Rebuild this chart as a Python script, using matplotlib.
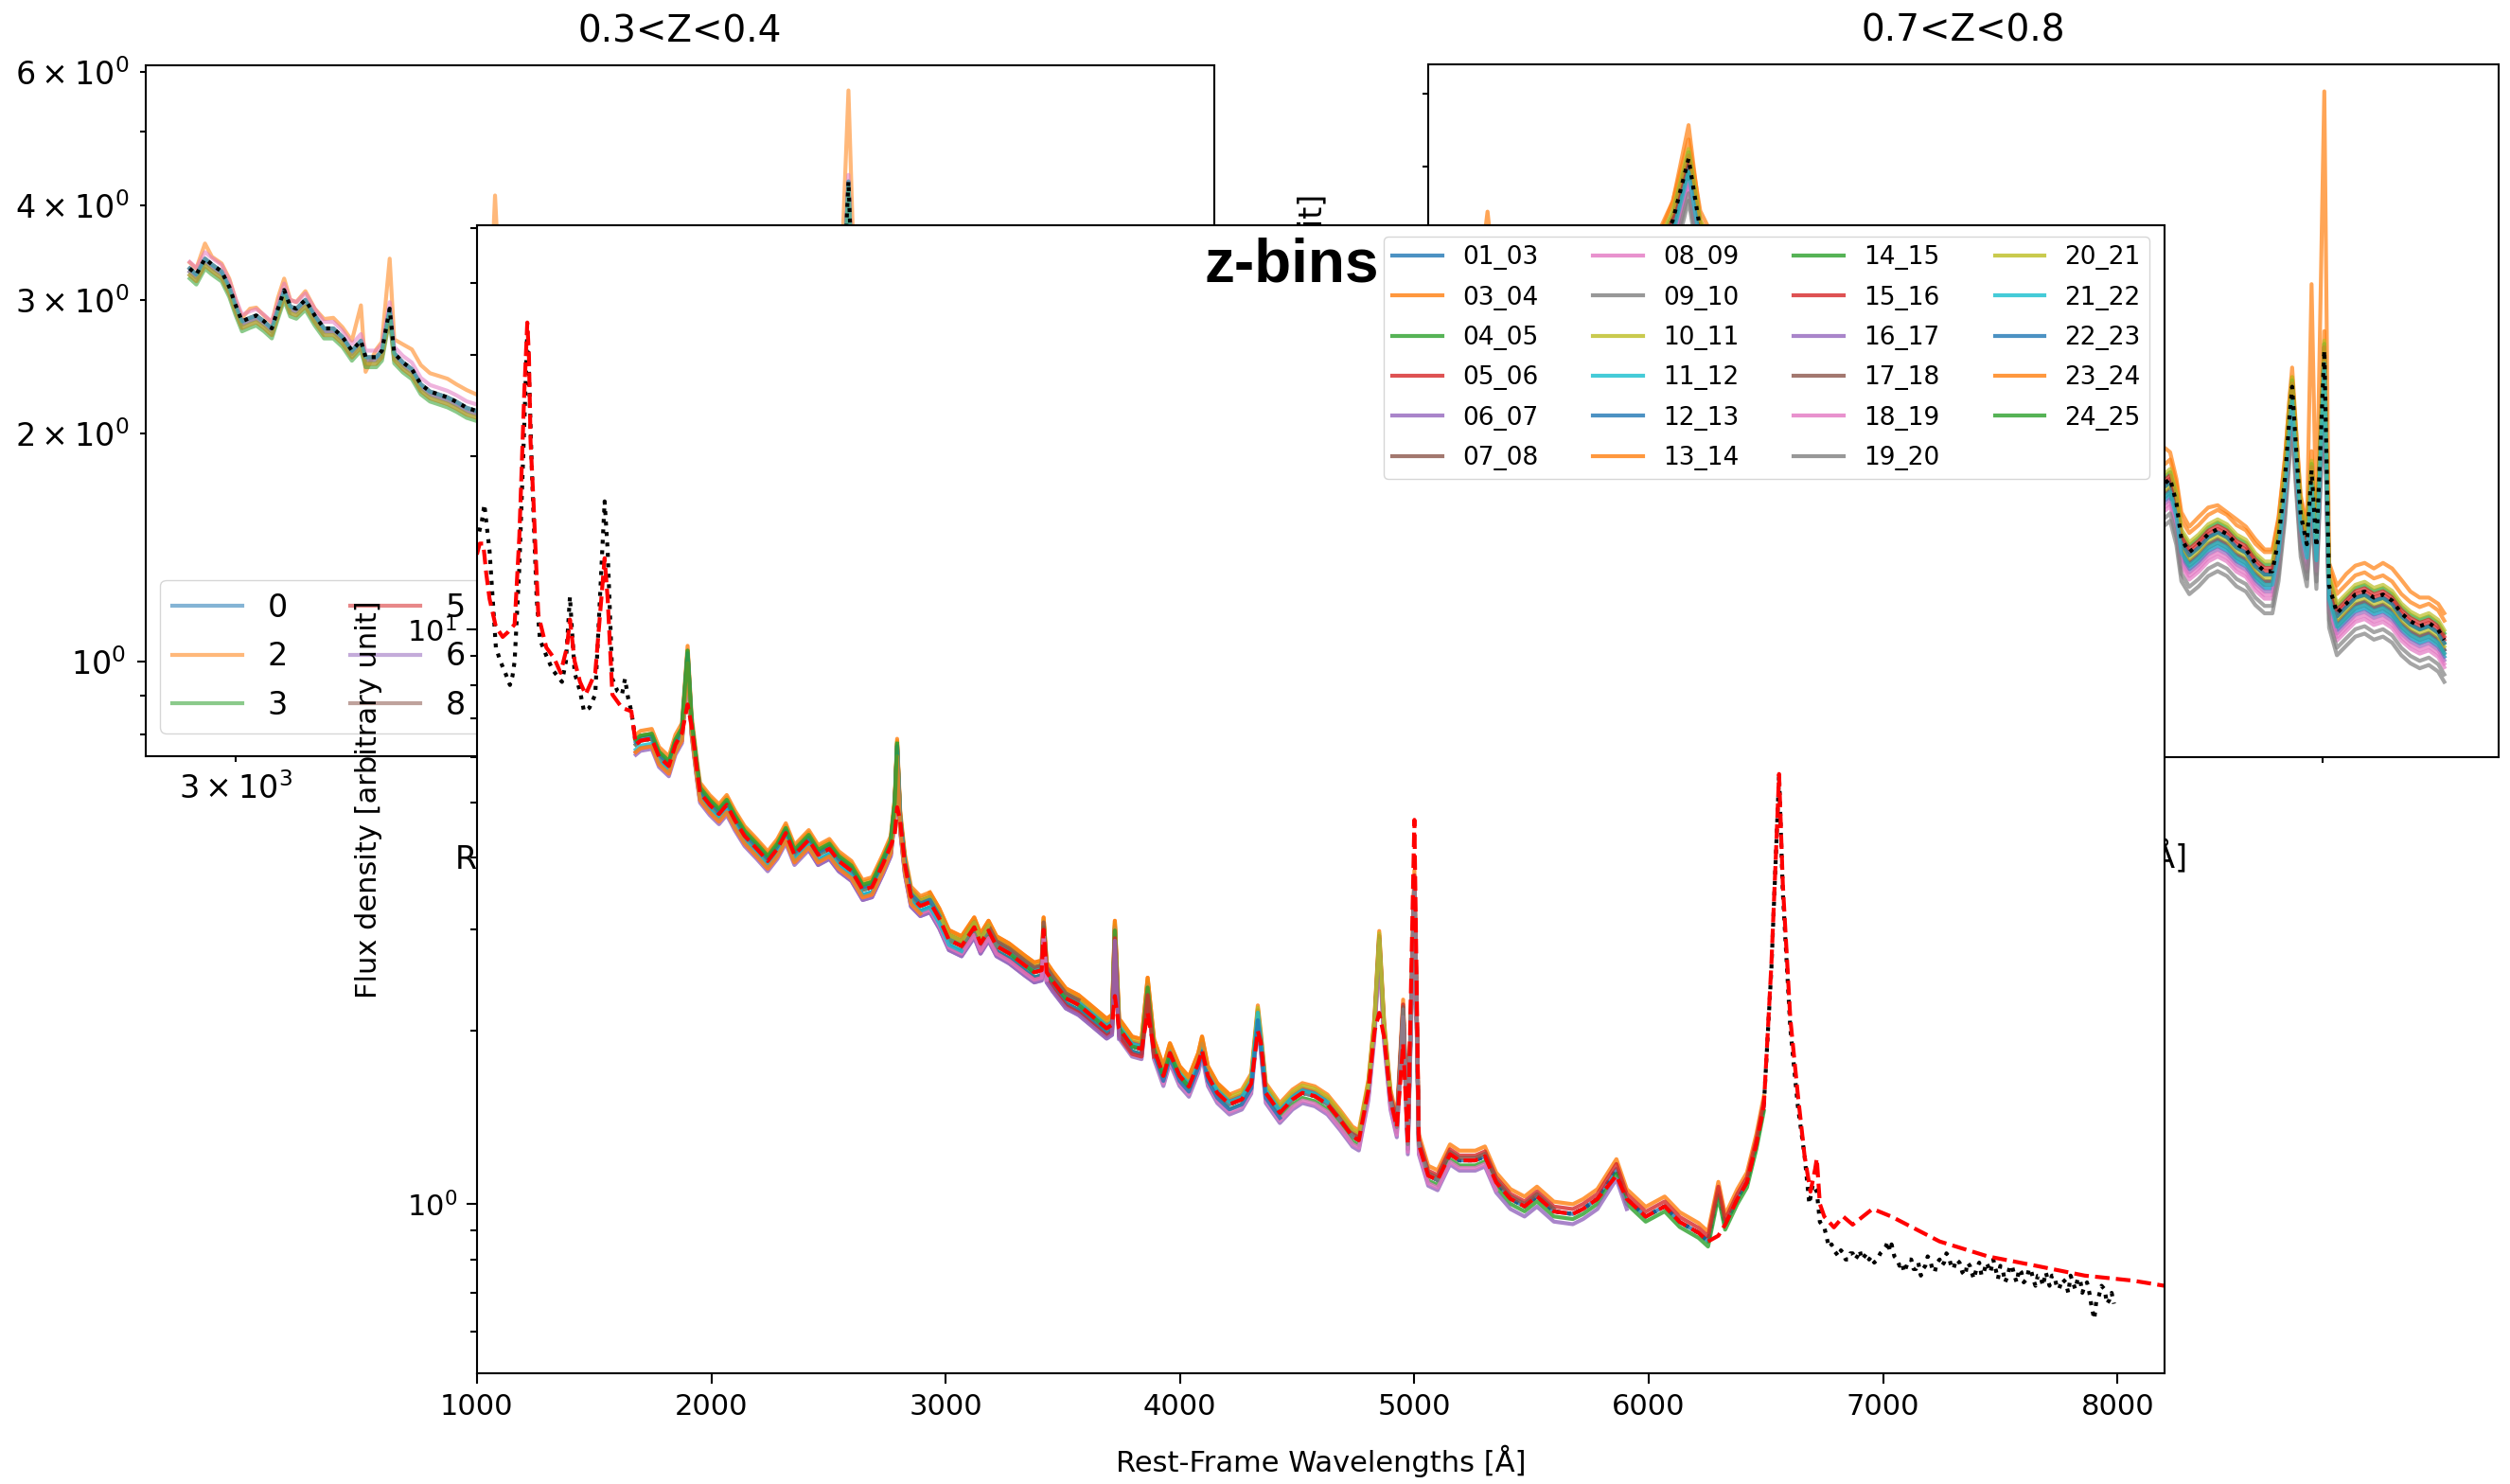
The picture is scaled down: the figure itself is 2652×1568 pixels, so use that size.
import matplotlib
matplotlib.use("Agg")
import matplotlib.pyplot as plt
import numpy as np

plt.rcParams["axes.linewidth"] = 1.5

# ---------------------------------------------------------------------------
# main panel: composite (black), template (red) and the stacked z-bins
# ---------------------------------------------------------------------------

# composite blueward of where the z-bins start
comp_blue_wave = [1010, 1022, 1032, 1043, 1054, 1068, 1081, 1100, 1121, 1141,
                  1152, 1161, 1181, 1202, 1215, 1222, 1235, 1255, 1269, 1296,
                  1323, 1363, 1380, 1397, 1417, 1440, 1457, 1480, 1505, 1531,
                  1545, 1558, 1578, 1600, 1619, 1632, 1645, 1659, 1672]
comp_blue_flux = [14.8, 15.5, 16.5, 15.0, 13.7, 11.2, 9.3, 8.8, 8.4, 8.0,
                  8.3, 8.8, 12.8, 22.6, 33.0, 28.0, 18.7, 11.3, 9.6, 9.0,
                  8.5, 8.1, 8.8, 11.4, 8.4, 7.8, 7.2, 7.3, 7.7, 12.8,
                  16.7, 13.7, 8.2, 7.8, 7.7, 8.2, 7.6, 7.2, 6.6]

# grid shared by the z-bin stacks
mid_wave = [1678, 1698, 1746, 1777, 1819, 1847, 1875, 1899, 1916, 1941,
            1952, 1993, 2033, 2066, 2101, 2142, 2194, 2241, 2282, 2318,
            2355, 2416, 2456, 2504, 2544, 2598, 2646, 2686, 2732, 2766,
            2783, 2793, 2806, 2826, 2852, 2892, 2933, 2973, 3014, 3068,
            3122, 3149, 3183, 3217, 3271, 3338, 3378, 3410, 3418, 3431,
            3457, 3513, 3567, 3620, 3687, 3710, 3722, 3740, 3795, 3836,
            3862, 3889, 3929, 3957, 3998, 4038, 4078, 4094, 4119, 4159,
            4211, 4264, 4304, 4332, 4345, 4366, 4426, 4480, 4522, 4575,
            4629, 4683, 4736, 4763, 4804, 4830, 4850, 4871, 4898, 4925,
            4952, 4972, 5000, 5019, 5059, 5099, 5152, 5192, 5260, 5301,
            5349, 5410, 5470, 5523, 5595, 5676, 5720, 5781, 5862, 5906,
            5987, 6068, 6132, 6213, 6253, 6297, 6326, 6378, 6419, 6459,
            6491]
bins_mid_flux = [6.3, 6.4, 6.45, 6.0, 5.78, 6.3, 6.6, 9.0, 6.8, 5.6,
                 5.2, 4.95, 4.77, 4.95, 4.65, 4.37, 4.15, 3.95, 4.15, 4.42,
                 4.05, 4.3, 4.05, 4.15, 3.95, 3.8, 3.52, 3.56, 3.9, 4.2,
                 4.9, 6.2, 4.65, 3.9, 3.43, 3.3, 3.35, 3.14, 2.88, 2.81,
                 3.03, 2.84, 2.99, 2.81, 2.73, 2.6, 2.53, 2.55, 3.03, 2.53,
                 2.44, 2.28, 2.22, 2.13, 2.02, 2.05, 2.99, 2.02, 1.88, 1.86,
                 2.38, 1.86, 1.67, 1.83, 1.67, 1.60, 1.76, 1.88, 1.67, 1.56,
                 1.49, 1.52, 1.62, 2.13, 1.91, 1.56, 1.44, 1.52, 1.56, 1.54,
                 1.49, 1.40, 1.31, 1.29, 1.58, 2.04, 2.87, 1.99, 1.52, 1.36,
                 2.18, 1.27, 3.66, 1.27, 1.12, 1.10, 1.22, 1.19, 1.19, 1.21,
                 1.09, 1.02, 0.99, 1.03, 0.97, 0.96, 0.98, 1.02, 1.15, 1.02,
                 0.95, 0.99, 0.93, 0.89, 0.86, 1.05, 0.92, 1.02, 1.09, 1.27,
                 1.48]
tmpl_mid_flux = [6.3, 6.4, 6.45, 6.0, 5.78, 6.3, 6.6, 7.4, 6.8, 5.6,
                 5.2, 4.95, 4.77, 4.95, 4.65, 4.37, 4.15, 3.95, 4.15, 4.42,
                 4.05, 4.3, 4.05, 4.15, 3.95, 3.8, 3.52, 3.56, 3.9, 4.2,
                 4.4, 4.9, 4.65, 3.9, 3.43, 3.3, 3.35, 3.14, 2.88, 2.81,
                 3.03, 2.84, 2.99, 2.81, 2.73, 2.6, 2.53, 2.55, 3.0, 2.53,
                 2.44, 2.28, 2.22, 2.13, 2.02, 2.05, 2.3, 2.02, 1.88, 1.86,
                 2.15, 1.86, 1.67, 1.83, 1.67, 1.60, 1.76, 1.85, 1.67, 1.56,
                 1.49, 1.52, 1.62, 2.0, 1.91, 1.56, 1.44, 1.52, 1.56, 1.54,
                 1.49, 1.40, 1.31, 1.29, 1.58, 2.0, 2.15, 1.95, 1.52, 1.36,
                 1.9, 1.27, 4.66, 1.27, 1.12, 1.10, 1.22, 1.19, 1.19, 1.21,
                 1.09, 1.02, 0.99, 1.03, 0.97, 0.96, 0.98, 1.02, 1.12, 1.02,
                 0.95, 0.99, 0.93, 0.89, 0.86, 0.88, 0.92, 1.02, 1.09, 1.27,
                 1.48]

# composite redward of the z-bins (H-alpha and the noisy tail)
comp_red_wave = [6523, 6543, 6556, 6572, 6604, 6636, 6665, 6685, 6700, 6717,
                 6730, 6749, 6760, 6769, 6780, 6790, 6800, 6810, 6820, 6830,
                 6840, 6850, 6860, 6870, 6880, 6890, 6900, 6910, 6920, 6930,
                 6940, 6950, 6962, 6975, 6988, 7000, 7010, 7020, 7028, 7036,
                 7048, 7060, 7070, 7080, 7090, 7100, 7110, 7120, 7130, 7140,
                 7150, 7161, 7170, 7180, 7190, 7200, 7210, 7220, 7230, 7241,
                 7250, 7260, 7270, 7280, 7290, 7300, 7312, 7326, 7338, 7350,
                 7360, 7370, 7378, 7387, 7398, 7410, 7420, 7430, 7440, 7447,
                 7458, 7470, 7480, 7490, 7500, 7510, 7520, 7532, 7541, 7550,
                 7560, 7570, 7580, 7590, 7600, 7613, 7622, 7630, 7640, 7650,
                 7660, 7670, 7682, 7694, 7702, 7710, 7720, 7730, 7740, 7750,
                 7765, 7779, 7790, 7800, 7810, 7820, 7830, 7840, 7850, 7860,
                 7870, 7880, 7890, 7901, 7910, 7920, 7932, 7945, 7955, 7965,
                 7975, 7985]
comp_red_flux = [2.55, 4.07, 5.57, 3.48, 2.02, 1.48, 1.21, 1.00, 1.08, 1.05,
                 0.93, 0.91, 0.87, 0.84, 0.85, 0.83, 0.82, 0.81, 0.83, 0.82,
                 0.80, 0.80, 0.82, 0.82, 0.80, 0.81, 0.83, 0.80, 0.81, 0.82,
                 0.80, 0.81, 0.79, 0.80, 0.82, 0.83, 0.84, 0.86, 0.83, 0.85,
                 0.81, 0.80, 0.78, 0.79, 0.76, 0.78, 0.80, 0.80, 0.77, 0.77,
                 0.79, 0.75, 0.77, 0.78, 0.81, 0.80, 0.77, 0.76, 0.79, 0.80,
                 0.78, 0.79, 0.82, 0.81, 0.78, 0.77, 0.80, 0.79, 0.76, 0.75,
                 0.79, 0.78, 0.76, 0.74, 0.77, 0.79, 0.75, 0.76, 0.79, 0.78,
                 0.76, 0.80, 0.77, 0.74, 0.78, 0.77, 0.73, 0.75, 0.78, 0.78,
                 0.75, 0.73, 0.77, 0.76, 0.73, 0.74, 0.77, 0.77, 0.74, 0.72,
                 0.75, 0.75, 0.72, 0.76, 0.74, 0.72, 0.75, 0.75, 0.72, 0.71,
                 0.74, 0.73, 0.70, 0.75, 0.73, 0.71, 0.74, 0.74, 0.70, 0.72,
                 0.73, 0.70, 0.66, 0.63, 0.68, 0.69, 0.72, 0.71, 0.67, 0.68,
                 0.70, 0.67]

# template at both ends
tmpl_blue_wave = [1000, 1012, 1027, 1040, 1054, 1081, 1110, 1134, 1161, 1181,
                  1202, 1215, 1222, 1229, 1242, 1262, 1296, 1330, 1357, 1384,
                  1397, 1417, 1440, 1464, 1505, 1531, 1545, 1558, 1578, 1619,
                  1659]
tmpl_blue_flux = [13.5, 14.1, 14.1, 12.5, 11.3, 10.1, 9.7, 9.9, 10.2, 14.5,
                  25.7, 34.2, 30.0, 21.2, 16.5, 10.6, 9.3, 8.9, 8.4, 9.3,
                  10.4, 8.8, 8.1, 7.7, 8.4, 11.3, 13.3, 11.3, 7.7, 7.3,
                  7.2]
tmpl_red_wave = [6523, 6543, 6556, 6572, 6604, 6636, 6665, 6690, 6710, 6717,
                 6730, 6749, 6790, 6830, 6870, 6955, 7036, 7241, 7447, 7653,
                 7860, 8066, 8200]
tmpl_red_flux = [2.6, 4.1, 5.6, 3.6, 2.1, 1.55, 1.21, 1.05, 1.15, 1.2,
                 1.0, 0.95, 0.91, 0.95, 0.92, 0.98, 0.95, 0.86, 0.81, 0.78,
                 0.75, 0.735, 0.72]

zbin_labels = ["01_03", "03_04", "04_05", "05_06", "06_07", "07_08", "08_09",
               "09_10", "10_11", "11_12", "12_13", "13_14", "14_15", "15_16",
               "16_17", "17_18", "18_19", "19_20", "20_21", "21_22", "22_23",
               "23_24", "24_25"]
zbin_lo = [3100, 2900, 2700, 2550, 2400, 2250, 2150, 2050, 1950, 1850, 1750,
           1678, 1678, 1678, 1678, 1678, 1678, 1678, 1678, 1678, 1678, 1678, 1678]
zbin_hi = [6500, 6500, 6500, 6500, 5950, 5650, 5400, 5150, 4900, 4650, 4450,
           4250, 4050, 3900, 3750, 3600, 3450, 3300, 3200, 3100, 3000, 2900, 2800]
zbin_scale = [1.00, 1.04, 0.98, 1.02, 0.96, 1.01, 0.97, 1.00, 1.03, 1.01, 0.98,
              1.04, 1.00, 0.97, 0.96, 1.02, 0.97, 1.00, 1.02, 0.98, 1.01, 0.97, 1.02]

# ---------------------------------------------------------------------------
# 0.3<Z<0.4 panel
# ---------------------------------------------------------------------------
tl_wave = [2888, 2904, 2925, 2942, 2966, 2985, 3001, 3017, 3037, 3053,
           3073, 3093, 3109, 3125, 3141, 3157, 3181, 3206, 3231, 3256,
           3281, 3307, 3332, 3345, 3375, 3391, 3413, 3426, 3451, 3477,
           3503, 3530, 3556, 3582, 3609, 3640, 3700, 3727, 3760, 3869,
           3969, 4100, 4340, 4500, 4700, 4861, 4959, 5007, 5060, 5300,
           5600, 5900, 6300, 6563, 6700]
tl_comp = [3.30, 3.24, 3.40, 3.34, 3.27, 3.12, 2.95, 2.81, 2.84, 2.86,
           2.81, 2.75, 2.92, 3.09, 2.94, 2.92, 3.00, 2.86, 2.75, 2.75,
           2.68, 2.57, 2.65, 2.52, 2.52, 2.57, 2.92, 2.55, 2.48, 2.43,
           2.32, 2.27, 2.25, 2.23, 2.20, 2.16, 2.12, 2.60, 2.08, 2.05,
           1.98, 1.90, 1.95, 1.75, 1.65, 2.40, 2.00, 4.30, 1.55, 1.50,
           1.45, 1.45, 1.50, 3.00, 1.60]
tl_orange = [3.36, 3.30, 3.56, 3.42, 3.35, 3.20, 3.00, 2.84, 2.92, 2.93,
             2.86, 2.80, 3.02, 3.20, 3.00, 2.98, 3.08, 2.92, 2.83, 2.84,
             2.76, 2.65, 2.95, 2.41, 2.58, 2.64, 3.40, 2.66, 2.62, 2.58,
             2.46, 2.40, 2.38, 2.36, 2.32, 2.28, 2.22, 4.12, 2.15, 2.15,
             2.05, 1.98, 2.02, 1.82, 1.72, 2.50, 2.30, 5.67, 1.62, 1.57,
             1.50, 1.50, 1.55, 3.10, 1.65]
tl_labels = ["0", "2", "3", "5", "6", "8", "9", "11", "12", "14"]
tl_scale = [1.00, 1.00, 0.97, 1.00, 0.99, 0.98, 1.02, 0.99, 0.98, 1.00]

# ---------------------------------------------------------------------------
# 0.7<Z<0.8 panel
# ---------------------------------------------------------------------------
tr_wave = [2210, 2320, 2330, 2340, 2415, 2425, 2435, 2500, 2600, 2700,
           2760, 2800, 2830, 2900, 3000, 3200, 3427, 3500, 3727, 3800,
           3869, 4000, 4102, 4200, 4329, 4348, 4373, 4393, 4425, 4463,
           4502, 4541, 4580, 4620, 4660, 4700, 4740, 4774, 4801, 4829,
           4850, 4861, 4878, 4899, 4927, 4948, 4970, 5006, 5028, 5064,
           5107, 5150, 5194, 5238, 5282, 5326, 5371, 5416, 5462, 5508,
           5555, 5586]
tr_comp = [3.0, 3.0, 3.1, 2.95, 2.95, 3.1, 2.9, 2.9, 2.85, 2.9,
           3.4, 4.1, 3.3, 2.8, 2.7, 2.45, 2.4, 2.15, 2.3, 1.95,
           2.0, 1.85, 1.9, 1.7, 1.53, 1.55, 1.44, 1.29, 1.24, 1.27,
           1.31, 1.33, 1.31, 1.27, 1.25, 1.20, 1.17, 1.17, 1.29, 1.55,
           1.88, 2.05, 1.71, 1.39, 1.27, 1.59, 1.26, 2.29, 1.12, 1.03,
           1.06, 1.09, 1.10, 1.08, 1.09, 1.07, 1.03, 1.005, 0.99, 1.00,
           0.98, 0.95]
tr_orange = [3.1, 3.1, 3.49, 3.05, 3.0, 3.0, 2.95, 3.0, 2.95, 3.0,
             3.6, 4.54, 3.4, 2.9, 2.8, 2.55, 2.5, 2.25, 2.4, 2.05,
             2.1, 1.95, 2.0, 1.8, 1.70, 1.68, 1.55, 1.40, 1.34, 1.38,
             1.42, 1.43, 1.40, 1.37, 1.34, 1.29, 1.25, 1.25, 1.38, 1.65,
             1.98, 2.11, 1.80, 1.45, 1.33, 2.8, 1.33, 5.03, 1.20, 1.12,
             1.16, 1.19, 1.20, 1.18, 1.20, 1.18, 1.14, 1.10, 1.08, 1.08,
             1.06, 1.03]
# spread of the individual redshift slices around the composite
tr_scale = [0.97, 1.00, 0.99, 1.00, 0.95, 0.97, 0.92, 0.88, 0.98, 0.95,
            0.99, 1.06, 1.02, 1.01, 0.94, 0.96, 0.93, 0.90, 1.03, 0.96]


fig = plt.figure(figsize=(26.52, 15.68), dpi=100)
ax_l = fig.add_axes([0.0581, 0.4904, 0.4257, 0.4656], zorder=1)
ax_r = fig.add_axes([0.5690, 0.4898, 0.4265, 0.4668], zorder=1)
ax_m = fig.add_axes([0.1900, 0.0746, 0.6723, 0.7736], zorder=3)

# --- 0.3<Z<0.4 ---
tl_wave = np.array(tl_wave)
tl_comp = np.array(tl_comp)
for i, (lab, s) in enumerate(zip(tl_labels, tl_scale)):
    flux = np.array(tl_orange) if lab == "2" else tl_comp * s
    ax_l.plot(tl_wave, flux, color=f"C{i}", lw=3, alpha=0.55, label=lab)
ax_l.plot(tl_wave, tl_comp, color="black", ls=":", lw=3)
ax_l.set_xscale("log")
ax_l.set_yscale("log")
ax_l.set_xlim(2784, 6797)
ax_l.set_ylim(0.749, 6.12)
ax_l.set_title("0.3<Z<0.4", fontsize=28, y=1.034, pad=0)
ax_l.set_xlabel("Rest-Frame Wavelengths [Å]", fontsize=24)
ax_l.xaxis.set_label_coords(0.5, -0.119)
ax_l.tick_params(which="both", labelsize=24, width=1.5, pad=8.5)
ax_l.tick_params(which="major", length=6.5)
ax_l.tick_params(which="minor", length=4)
ax_l.legend(ncol=4, loc="lower left", bbox_to_anchor=(0.0637, 0.5057),
            bbox_transform=fig.transFigure, borderaxespad=0, fontsize=24,
            handlelength=2.2, labelspacing=0.55)

# --- 0.7<Z<0.8 ---
tr_wave = np.array(tr_wave)
tr_comp = np.array(tr_comp)
for i, s in enumerate(tr_scale):
    flux = np.array(tr_orange) if i == 1 else tr_comp * s
    ax_r.plot(tr_wave, flux, color=f"C{i % 10}", lw=3, alpha=0.7)
ax_r.plot(tr_wave, tr_comp, color="black", ls=":", lw=3)
ax_r.set_xscale("log")
ax_r.set_yscale("log")
ax_r.set_xlim(2207, 5871)
ax_r.set_ylim(0.665, 5.46)
ax_r.set_title("0.7<Z<0.8", fontsize=28, y=1.033, pad=0)
ax_r.set_xlabel("Rest-Frame Wavelengths [Å]", fontsize=24)
ax_r.xaxis.set_label_coords(0.5, -0.117)
ax_r.set_ylabel("Flux density [arbitrary unit]", fontsize=24)
ax_r.yaxis.set_label_coords(-0.093, 0.5)
ax_r.tick_params(which="both", width=1.5, labelleft=False, labelbottom=False)
ax_r.tick_params(which="major", length=6.5)
ax_r.tick_params(which="minor", length=4)

# --- main composite ---
mid_wave = np.array(mid_wave)
bins_mid_flux = np.array(bins_mid_flux)
comp_wave = comp_blue_wave + list(mid_wave) + comp_red_wave
comp_flux = comp_blue_flux + list(bins_mid_flux) + comp_red_flux
tmpl_wave = tmpl_blue_wave + list(mid_wave) + tmpl_red_wave
tmpl_flux = tmpl_blue_flux + tmpl_mid_flux + tmpl_red_flux

ax_m.plot(comp_wave, comp_flux, color="black", ls=":", lw=3)
for i, lab in enumerate(zbin_labels):
    sel = (mid_wave >= zbin_lo[i]) & (mid_wave <= zbin_hi[i])
    ax_m.plot(mid_wave[sel], bins_mid_flux[sel] * zbin_scale[i],
              color=f"C{i % 10}", lw=3, alpha=0.8, label=lab)
ax_m.plot(tmpl_wave, tmpl_flux, color="red", ls="--", lw=3)

ax_m.set_yscale("log")
ax_m.set_xlim(1000, 8200)
ax_m.set_ylim(0.507, 50.5)
ax_m.set_xlabel("Rest-Frame Wavelengths [Å]", fontsize=22)
ax_m.xaxis.set_label_coords(0.5, -0.062)
ax_m.set_ylabel("Flux density [arbitrary unit]", fontsize=22)
ax_m.yaxis.set_label_coords(-0.056, 0.5)
ax_m.tick_params(which="both", labelsize=22, width=1.5, pad=7)
ax_m.tick_params(which="major", length=8)
ax_m.tick_params(which="minor", length=5)
ax_m.legend(ncol=4, loc="upper right", bbox_to_anchor=(0.8563, 0.8406),
            bbox_transform=fig.transFigure, borderaxespad=0, fontsize=19,
            labelspacing=0.62, borderpad=0.35, columnspacing=2.2)

fig.text(0.5147, 0.8208, "z-bins", fontsize=46, fontweight="bold",
         family="Liberation Sans", ha="center", va="center")

fig.savefig("out.png", dpi=100)
